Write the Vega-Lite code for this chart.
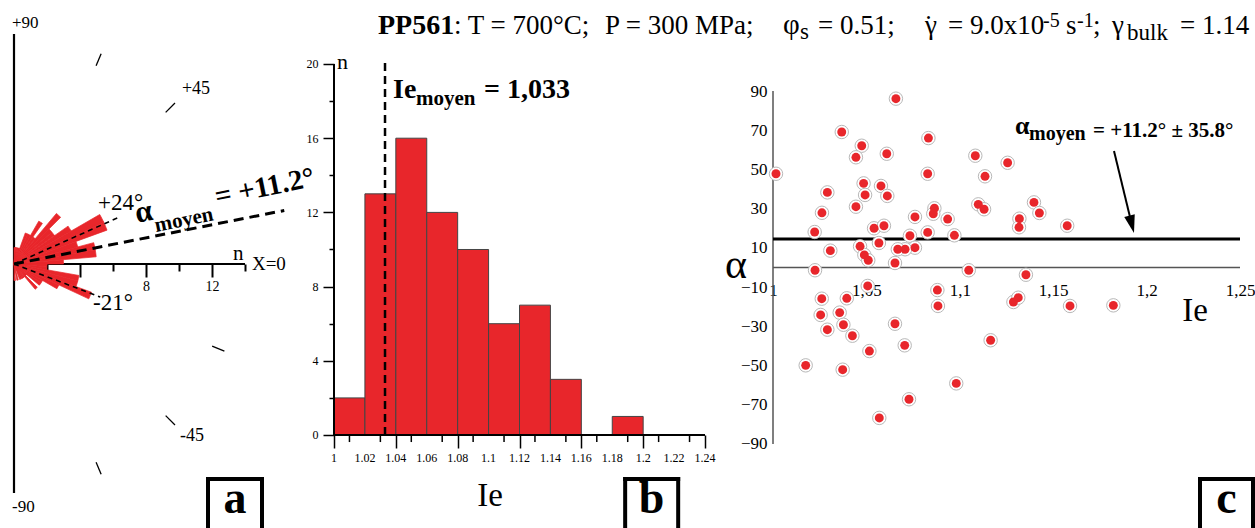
{
  "$schema": "https://vega.github.io/schema/vega-lite/v6.json",
  "padding": {"left": 12, "top": 11, "right": 0, "bottom": 0},
  "autosize": {"type": "pad"},
  "bounds": "flush",
  "spacing": 68,
  "config": {
    "font": "Liberation Serif",
    "view": {"stroke": null},
    "axis": {"grid": false, "labelColor": "#000", "tickColor": "#000", "labelFont": "Liberation Serif", "labelOverlap": false},
    "text": {"font": "Liberation Serif", "color": "#000"}
  },
  "datasets": {
    "rose": [
      {"a0": 85, "a1": 90, "n": 1}, {"a0": 80, "a1": 85, "n": 1}, {"a0": 75, "a1": 80, "n": 1},
      {"a0": 70, "a1": 75, "n": 1}, {"a0": 65, "a1": 70, "n": 2}, {"a0": 60, "a1": 65, "n": 2},
      {"a0": 55, "a1": 60, "n": 3}, {"a0": 50, "a1": 55, "n": 2}, {"a0": 45, "a1": 50, "n": 4},
      {"a0": 40, "a1": 45, "n": 3}, {"a0": 35, "a1": 40, "n": 3}, {"a0": 30, "a1": 35, "n": 4},
      {"a0": 25, "a1": 30, "n": 6}, {"a0": 20, "a1": 25, "n": 6}, {"a0": 15, "a1": 20, "n": 4},
      {"a0": 10, "a1": 15, "n": 5}, {"a0": 5, "a1": 10, "n": 5}, {"a0": 0, "a1": 5, "n": 3},
      {"a0": -5, "a1": 0, "n": 2}, {"a0": -10, "a1": -5, "n": 2}, {"a0": -15, "a1": -10, "n": 4},
      {"a0": -20, "a1": -15, "n": 4}, {"a0": -25, "a1": -20, "n": 5}, {"a0": -30, "a1": -25, "n": 3},
      {"a0": -35, "a1": -30, "n": 2}, {"a0": -40, "a1": -35, "n": 2}, {"a0": -45, "a1": -40, "n": 1},
      {"a0": -50, "a1": -45, "n": 2}, {"a0": -55, "a1": -50, "n": 1}, {"a0": -60, "a1": -55, "n": 1},
      {"a0": -65, "a1": -60, "n": 1}, {"a0": -70, "a1": -65, "n": 1}, {"a0": -80, "a1": -75, "n": 1},
      {"a0": -90, "a1": -85, "n": 1}
    ],
    "aAxes": [
      {"x": 0, "y": -13.88, "x2": 0, "y2": 13.94},
      {"x": 0, "y": 0, "x2": 14, "y2": 0}
    ],
    "aRadTicks": [
      {"x": 4.975, "y": 12.01, "x2": 5.281, "y2": 12.75},
      {"x": 9.192, "y": 9.192, "x2": 9.758, "y2": 9.758},
      {"x": 12.01, "y": -4.975, "x2": 12.75, "y2": -5.281},
      {"x": 9.192, "y": -9.192, "x2": 9.758, "y2": -9.758},
      {"x": 4.975, "y": -12.01, "x2": 5.281, "y2": -12.75}
    ],
    "aDash": [
      {"x": 0, "y": 0, "x2": 6.303, "y2": 2.806, "g": "mode"},
      {"x": 0, "y": 0, "x2": 5.228, "y2": -2.007, "g": "mode"},
      {"x": 0, "y": 0, "x2": 16.38, "y2": 3.244, "g": "mean"}
    ],
    "aBox": [
      {"x": 11.758, "y": -13.03, "x2": 11.758, "y2": -16.0},
      {"x": 11.758, "y": -13.03, "x2": 15.03, "y2": -13.03},
      {"x": 15.03, "y": -13.03, "x2": 15.03, "y2": -16.0}
    ],
    "aText": [
      {"x": -0.121, "y": 14.606, "t": "+90", "g": "l17"},
      {"x": -0.121, "y": -14.727, "t": "-90", "g": "l17"},
      {"x": 10.18, "y": 10.606, "t": "+45", "g": "l18"},
      {"x": 10.06, "y": -10.424, "t": "-45", "g": "l18"},
      {"x": 5.091, "y": 3.697, "t": "+24°", "g": "l23"},
      {"x": 4.788, "y": -2.364, "t": "-21°", "g": "l23"},
      {"x": 13.27, "y": 0.242, "t": "n", "g": "n"},
      {"x": 14.42, "y": 0, "t": "X=0", "g": "x0"},
      {"x": 7.455, "y": 2.485, "t": "α", "g": "rA"},
      {"x": 8.606, "y": 1.939, "t": "moyen", "g": "rSub"},
      {"x": 12.30, "y": 3.515, "t": "= +11.2°", "g": "rMain"},
      {"x": 13.394, "y": -15.09, "t": "a", "g": "box"}
    ],
    "hist": [
      {"b0": 1.00, "b1": 1.02, "count": 2}, {"b0": 1.02, "b1": 1.04, "count": 13},
      {"b0": 1.04, "b1": 1.06, "count": 16}, {"b0": 1.06, "b1": 1.08, "count": 12},
      {"b0": 1.08, "b1": 1.10, "count": 10}, {"b0": 1.10, "b1": 1.12, "count": 6},
      {"b0": 1.12, "b1": 1.14, "count": 7}, {"b0": 1.14, "b1": 1.16, "count": 3},
      {"b0": 1.18, "b1": 1.20, "count": 1}
    ],
    "bMinor": [
      {"v": 1.01}, {"v": 1.03}, {"v": 1.05}, {"v": 1.07}, {"v": 1.09}, {"v": 1.11},
      {"v": 1.13}, {"v": 1.15}, {"v": 1.17}, {"v": 1.19}, {"v": 1.21}, {"v": 1.23}
    ],
    "bMajor": [
      {"v": 1.0}, {"v": 1.02}, {"v": 1.04}, {"v": 1.06}, {"v": 1.08}, {"v": 1.1}, {"v": 1.12},
      {"v": 1.14}, {"v": 1.16}, {"v": 1.18}, {"v": 1.2}, {"v": 1.22}, {"v": 1.24}
    ],
    "bAxes": [
      {"x": 1, "y": 0, "x2": 1, "y2": 20},
      {"x": 1, "y": 0, "x2": 1.24, "y2": 0}
    ],
    "bDash": [{"x": 1.033, "y": 0, "x2": 1.033, "y2": 20.3}],
    "bBox": [
      {"x": 1.18835, "y": -2.372, "x2": 1.18835, "y2": -5.013},
      {"x": 1.18835, "y": -2.372, "x2": 1.22265, "y2": -2.372},
      {"x": 1.22265, "y": -2.372, "x2": 1.22265, "y2": -5.013}
    ],
    "bText": [
      {"x": 1.00194, "y": 19.73, "t": "n", "g": "n"},
      {"x": 1.03819, "y": 18.17, "t": "Ie", "g": "main"},
      {"x": 1.05307, "y": 17.79, "t": "moyen", "g": "sub"},
      {"x": 1.09709, "y": 18.17, "t": "= 1,033", "g": "main"},
      {"x": 1.10097, "y": -3.83, "t": "Ie", "g": "title"},
      {"x": 1.2055, "y": -4.205, "t": "b", "g": "box"}
    ],
    "pts": [
      {"Ie": 1.0016, "alpha": 47.8}, {"Ie": 1.0658, "alpha": 86.1}, {"Ie": 1.0368, "alpha": 69.1},
      {"Ie": 1.0832, "alpha": 66.0}, {"Ie": 1.0475, "alpha": 62.1}, {"Ie": 1.0444, "alpha": 56.2},
      {"Ie": 1.0609, "alpha": 58.0}, {"Ie": 1.1083, "alpha": 57.0}, {"Ie": 1.0828, "alpha": 47.8},
      {"Ie": 1.0485, "alpha": 42.9}, {"Ie": 1.0578, "alpha": 41.6}, {"Ie": 1.0291, "alpha": 38.3},
      {"Ie": 1.0493, "alpha": 37.0}, {"Ie": 1.0612, "alpha": 36.5}, {"Ie": 1.0262, "alpha": 27.9},
      {"Ie": 1.0444, "alpha": 31.0}, {"Ie": 1.0864, "alpha": 30.2}, {"Ie": 1.0858, "alpha": 27.4},
      {"Ie": 1.0760, "alpha": 25.8}, {"Ie": 1.0935, "alpha": 24.7}, {"Ie": 1.0541, "alpha": 20.0},
      {"Ie": 1.0594, "alpha": 21.3}, {"Ie": 1.0223, "alpha": 18.1}, {"Ie": 1.0828, "alpha": 17.9},
      {"Ie": 1.0733, "alpha": 16.2}, {"Ie": 1.0971, "alpha": 16.4}, {"Ie": 1.0567, "alpha": 12.5},
      {"Ie": 1.0466, "alpha": 10.8}, {"Ie": 1.0760, "alpha": 10.1}, {"Ie": 1.0707, "alpha": 9.3},
      {"Ie": 1.0668, "alpha": 9.3}, {"Ie": 1.0307, "alpha": 8.6}, {"Ie": 1.0489, "alpha": 6.4},
      {"Ie": 1.0510, "alpha": 3.7}, {"Ie": 1.0653, "alpha": 2.3}, {"Ie": 1.0225, "alpha": -1.4},
      {"Ie": 1.1048, "alpha": -1.4}, {"Ie": 1.0507, "alpha": -9.4}, {"Ie": 1.0880, "alpha": -11.5},
      {"Ie": 1.0261, "alpha": -15.9}, {"Ie": 1.0395, "alpha": -15.7}, {"Ie": 1.0883, "alpha": -19.6},
      {"Ie": 1.0255, "alpha": -24.2}, {"Ie": 1.0357, "alpha": -23.0}, {"Ie": 1.0377, "alpha": -29.2},
      {"Ie": 1.0653, "alpha": -28.7}, {"Ie": 1.0291, "alpha": -31.7}, {"Ie": 1.0425, "alpha": -34.8},
      {"Ie": 1.0705, "alpha": -39.7}, {"Ie": 1.0516, "alpha": -42.6}, {"Ie": 1.0175, "alpha": -49.9},
      {"Ie": 1.0373, "alpha": -52.1}, {"Ie": 1.0981, "alpha": -59.1}, {"Ie": 1.0728, "alpha": -67.2},
      {"Ie": 1.0569, "alpha": -76.7}, {"Ie": 1.1256, "alpha": 53.4}, {"Ie": 1.1135, "alpha": 46.5},
      {"Ie": 1.1099, "alpha": 32.2}, {"Ie": 1.1130, "alpha": 29.7}, {"Ie": 1.1397, "alpha": 33.2},
      {"Ie": 1.1426, "alpha": 27.8}, {"Ie": 1.1319, "alpha": 24.9}, {"Ie": 1.1317, "alpha": 20.5},
      {"Ie": 1.1575, "alpha": 21.3}, {"Ie": 1.1354, "alpha": -3.7}, {"Ie": 1.1287, "alpha": -17.6},
      {"Ie": 1.1313, "alpha": -15.4}, {"Ie": 1.1590, "alpha": -19.6}, {"Ie": 1.1822, "alpha": -19.3},
      {"Ie": 1.1165, "alpha": -37.1}
    ],
    "cLines": [
      {"x": 1, "y": -90, "x2": 1, "y2": 90, "g": "axis"},
      {"x": 1, "y": 0, "x2": 1.25, "y2": 0, "g": "zero"},
      {"x": 1, "y": 14.5, "x2": 1.25, "y2": 14.5, "g": "mean"}
    ],
    "cArrow": [{"x": 1.18255, "y": 59.41, "x2": 1.19192, "y2": 22.55}],
    "cArrowHead": [{"x": 1.19325, "y": 17.59}],
    "cBox": [
      {"x": 1.22859, "y": -107.85, "x2": 1.22859, "y2": -132.84},
      {"x": 1.22859, "y": -107.85, "x2": 1.25696, "y2": -107.85},
      {"x": 1.25696, "y": -107.85, "x2": 1.25696, "y2": -132.84}
    ],
    "cText": [
      {"x": 0.98019, "y": -5.35, "t": "α", "g": "alpha"},
      {"x": 1.22591, "y": -27.28, "t": "Ie", "g": "ie"},
      {"x": 1.12955, "y": 68.08, "t": "α", "g": "lbA"},
      {"x": 1.13704, "y": 65.02, "t": "moyen", "g": "lbSub"},
      {"x": 1.17131, "y": 66.55, "t": "= +11.2° ± 35.8°", "g": "lbMain"},
      {"x": 1.24277, "y": -125.19, "t": "c", "g": "box"},
      {"x": 0.78854, "y": 119.07, "t": "PP561", "g": "tBold"},
      {"x": 0.82923, "y": 119.07, "t": ": T = 700°C;", "g": "tReg"},
      {"x": 0.91006, "y": 119.07, "t": "P = 300 MPa;", "g": "tReg"},
      {"x": 1.00535, "y": 119.07, "t": "φ", "g": "tPhi"},
      {"x": 1.01445, "y": 116.5, "t": "s", "g": "tSub"},
      {"x": 1.02409, "y": 119.07, "t": "= 0.51;", "g": "tReg"},
      {"x": 1.08137, "y": 119.07, "t": "γ", "g": "tReg"},
      {"x": 1.0809, "y": 119.07, "t": "˙", "g": "tReg"},
      {"x": 1.09368, "y": 119.07, "t": "= 9.0x10", "g": "tReg"},
      {"x": 1.14454, "y": 122.6, "t": "-5", "g": "tSup"},
      {"x": 1.15685, "y": 119.07, "t": "s", "g": "tReg"},
      {"x": 1.16274, "y": 122.6, "t": "-1", "g": "tSup"},
      {"x": 1.17131, "y": 119.07, "t": ";", "g": "tReg"},
      {"x": 1.18148, "y": 119.07, "t": "γ", "g": "tReg"},
      {"x": 1.18951, "y": 115.99, "t": "bulk", "g": "tSub"},
      {"x": 1.21788, "y": 119.07, "t": "= 1.14", "g": "tReg"}
    ]
  },
  "hconcat": [
    {
      "width": 252,
      "height": 459,
      "layer": [
        {
          "data": {"name": "aAxes"},
          "mark": {"type": "rule", "color": "#000", "strokeWidth": 2.2},
          "encoding": {
            "x": {"field": "x", "type": "quantitative", "scale": {"domain": [0, 15.2727], "nice": false, "zero": false},
              "axis": {"orient": "bottom", "offset": -229, "values": [2, 4, 6, 8, 10, 12, 14], "domain": false, "title": null,
                "tickWidth": 2, "tickSize": {"condition": {"test": "datum.value % 4 === 0", "value": 13}, "value": 7},
                "labelExpr": "datum.value === 8 || datum.value === 12 ? datum.label : ''", "labelFontSize": 14, "labelPadding": 2,
                "labelFlush": false, "labelOverlap": false}},
            "y": {"field": "y", "type": "quantitative", "scale": {"domain": [-13.88, 13.94], "nice": false, "zero": false}, "axis": null},
            "x2": {"field": "x2"},
            "y2": {"field": "y2"}
          }
        },
        {
          "data": {"name": "rose"},
          "mark": {"type": "arc", "color": "#e8262b", "stroke": "#e8262b", "strokeWidth": 0.7},
          "encoding": {
            "x": {"datum": 0, "type": "quantitative", "scale": {"domain": [0, 15.2727], "nice": false, "zero": false}},
            "y": {"datum": 0, "type": "quantitative", "scale": {"domain": [-13.88, 13.94], "nice": false, "zero": false}, "axis": null},
            "theta": {"field": "a1", "type": "quantitative", "stack": null, "scale": {"domain": [-90, 90], "range": [3.14159265, 0]}},
            "theta2": {"field": "a0"},
            "radius": {"field": "n", "type": "quantitative", "scale": {"type": "linear", "domain": [0, 14], "range": [0, 231], "zero": true, "nice": false}}
          }
        },
        {
          "data": {"name": "aDash"},
          "transform": [{"filter": "datum.g === 'mode'"}],
          "mark": {"type": "rule", "color": "#000", "strokeWidth": 1.6, "strokeDash": [5, 4]},
          "encoding": {
            "x": {"field": "x", "type": "quantitative", "scale": {"domain": [0, 15.2727], "nice": false, "zero": false}},
            "y": {"field": "y", "type": "quantitative", "scale": {"domain": [-13.88, 13.94], "nice": false, "zero": false}, "axis": null},
            "x2": {"field": "x2"},
            "y2": {"field": "y2"}
          }
        },
        {
          "data": {"name": "aDash"},
          "transform": [{"filter": "datum.g === 'mean'"}],
          "mark": {"type": "rule", "color": "#000", "strokeWidth": 3, "strokeDash": [10, 6]},
          "encoding": {
            "x": {"field": "x", "type": "quantitative", "scale": {"domain": [0, 15.2727], "nice": false, "zero": false}},
            "y": {"field": "y", "type": "quantitative", "scale": {"domain": [-13.88, 13.94], "nice": false, "zero": false}, "axis": null},
            "x2": {"field": "x2"},
            "y2": {"field": "y2"}
          }
        },
        {
          "data": {"name": "aRadTicks"},
          "mark": {"type": "rule", "color": "#000", "strokeWidth": 1.3},
          "encoding": {
            "x": {"field": "x", "type": "quantitative", "scale": {"domain": [0, 15.2727], "nice": false, "zero": false}},
            "y": {"field": "y", "type": "quantitative", "scale": {"domain": [-13.88, 13.94], "nice": false, "zero": false}, "axis": null},
            "x2": {"field": "x2"},
            "y2": {"field": "y2"}
          }
        },
        {
          "data": {"name": "aBox"},
          "mark": {"type": "rule", "color": "#000", "strokeWidth": 4, "strokeCap": "square"},
          "encoding": {
            "x": {"field": "x", "type": "quantitative", "scale": {"domain": [0, 15.2727], "nice": false, "zero": false}},
            "y": {"field": "y", "type": "quantitative", "scale": {"domain": [-13.88, 13.94], "nice": false, "zero": false}, "axis": null},
            "x2": {"field": "x2"},
            "y2": {"field": "y2"}
          }
        },
        {
          "data": {"name": "aText"},
          "transform": [{"filter": "datum.g === 'l17'"}],
          "mark": {"type": "text", "align": "left", "baseline": "middle", "fontSize": 17},
          "encoding": {
            "x": {"field": "x", "type": "quantitative", "scale": {"domain": [0, 15.2727], "nice": false, "zero": false}},
            "y": {"field": "y", "type": "quantitative", "scale": {"domain": [-13.88, 13.94], "nice": false, "zero": false}, "axis": null},
            "text": {"field": "t"}
          }
        },
        {
          "data": {"name": "aText"},
          "transform": [{"filter": "datum.g === 'l18'"}],
          "mark": {"type": "text", "align": "left", "baseline": "middle", "fontSize": 18},
          "encoding": {
            "x": {"field": "x", "type": "quantitative", "scale": {"domain": [0, 15.2727], "nice": false, "zero": false}},
            "y": {"field": "y", "type": "quantitative", "scale": {"domain": [-13.88, 13.94], "nice": false, "zero": false}, "axis": null},
            "text": {"field": "t"}
          }
        },
        {
          "data": {"name": "aText"},
          "transform": [{"filter": "datum.g === 'l23'"}],
          "mark": {"type": "text", "align": "left", "baseline": "middle", "fontSize": 23},
          "encoding": {
            "x": {"field": "x", "type": "quantitative", "scale": {"domain": [0, 15.2727], "nice": false, "zero": false}},
            "y": {"field": "y", "type": "quantitative", "scale": {"domain": [-13.88, 13.94], "nice": false, "zero": false}, "axis": null},
            "text": {"field": "t"}
          }
        },
        {
          "data": {"name": "aText"},
          "transform": [{"filter": "datum.g === 'n'"}],
          "mark": {"type": "text", "align": "left", "baseline": "alphabetic", "fontSize": 21},
          "encoding": {
            "x": {"field": "x", "type": "quantitative", "scale": {"domain": [0, 15.2727], "nice": false, "zero": false}},
            "y": {"field": "y", "type": "quantitative", "scale": {"domain": [-13.88, 13.94], "nice": false, "zero": false}, "axis": null},
            "text": {"field": "t"}
          }
        },
        {
          "data": {"name": "aText"},
          "transform": [{"filter": "datum.g === 'x0'"}],
          "mark": {"type": "text", "align": "left", "baseline": "middle", "fontSize": 19},
          "encoding": {
            "x": {"field": "x", "type": "quantitative", "scale": {"domain": [0, 15.2727], "nice": false, "zero": false}},
            "y": {"field": "y", "type": "quantitative", "scale": {"domain": [-13.88, 13.94], "nice": false, "zero": false}, "axis": null},
            "text": {"field": "t"}
          }
        },
        {
          "data": {"name": "aText"},
          "transform": [{"filter": "datum.g === 'rA'"}],
          "mark": {"type": "text", "align": "left", "baseline": "alphabetic", "fontSize": 31, "fontWeight": "bold", "angle": -11.5},
          "encoding": {
            "x": {"field": "x", "type": "quantitative", "scale": {"domain": [0, 15.2727], "nice": false, "zero": false}},
            "y": {"field": "y", "type": "quantitative", "scale": {"domain": [-13.88, 13.94], "nice": false, "zero": false}, "axis": null},
            "text": {"field": "t"}
          }
        },
        {
          "data": {"name": "aText"},
          "transform": [{"filter": "datum.g === 'rSub'"}],
          "mark": {"type": "text", "align": "left", "baseline": "alphabetic", "fontSize": 21, "fontWeight": "bold", "angle": -11.5},
          "encoding": {
            "x": {"field": "x", "type": "quantitative", "scale": {"domain": [0, 15.2727], "nice": false, "zero": false}},
            "y": {"field": "y", "type": "quantitative", "scale": {"domain": [-13.88, 13.94], "nice": false, "zero": false}, "axis": null},
            "text": {"field": "t"}
          }
        },
        {
          "data": {"name": "aText"},
          "transform": [{"filter": "datum.g === 'rMain'"}],
          "mark": {"type": "text", "align": "left", "baseline": "alphabetic", "fontSize": 29, "fontWeight": "bold", "angle": -11.5},
          "encoding": {
            "x": {"field": "x", "type": "quantitative", "scale": {"domain": [0, 15.2727], "nice": false, "zero": false}},
            "y": {"field": "y", "type": "quantitative", "scale": {"domain": [-13.88, 13.94], "nice": false, "zero": false}, "axis": null},
            "text": {"field": "t"}
          }
        },
        {
          "data": {"name": "aText"},
          "transform": [{"filter": "datum.g === 'box'"}],
          "mark": {"type": "text", "align": "center", "baseline": "alphabetic", "fontSize": 46, "fontWeight": "bold"},
          "encoding": {
            "x": {"field": "x", "type": "quantitative", "scale": {"domain": [0, 15.2727], "nice": false, "zero": false}},
            "y": {"field": "y", "type": "quantitative", "scale": {"domain": [-13.88, 13.94], "nice": false, "zero": false}, "axis": null},
            "text": {"field": "t"}
          }
        }
      ]
    },
    {
      "width": 371,
      "height": 459,
      "layer": [
        {
          "data": {"name": "hist"},
          "mark": {"type": "rect", "color": "#e8262b", "stroke": "#444", "strokeWidth": 1},
          "encoding": {
            "x": {"field": "b0", "type": "quantitative", "scale": {"domain": [1, 1.24], "nice": false, "zero": false},
              "axis": {"orient": "bottom", "offset": -58, "values": [1, 1.02, 1.04, 1.06, 1.08, 1.1, 1.12, 1.14, 1.16, 1.18, 1.2, 1.22, 1.24],
                "labels": false, "domain": false, "title": null, "tickWidth": 1.5, "tickSize": 13}},
            "x2": {"field": "b1"},
            "y": {"field": "count", "type": "quantitative", "scale": {"domain": [-3.127, 21.617], "nice": false, "zero": false},
              "axis": {"values": [0, 2, 4, 6, 8, 10, 12, 14, 16, 18, 20], "domain": false, "title": null, "tickWidth": 1.5,
                "tickSize": {"condition": {"test": "datum.value % 4 === 0", "value": 11}, "value": 5},
                "labelExpr": "datum.value % 4 === 0 ? datum.label : ''",
                "labelFontSize": 12, "labelPadding": 5, "labelFlush": false, "labelOverlap": false}},
            "y2": {"datum": 0}
          }
        },
        {
          "data": {"name": "bMinor"},
          "mark": {"type": "rule", "color": "#000", "strokeWidth": 1.5},
          "encoding": {
            "x": {"field": "v", "type": "quantitative", "scale": {"domain": [1, 1.24], "nice": false, "zero": false}},
            "y": {"datum": 0, "type": "quantitative", "scale": {"domain": [-3.127, 21.617], "nice": false, "zero": false}},
            "y2": {"datum": -0.38}
          }
        },
        {
          "data": {"name": "bMajor"},
          "mark": {"type": "text", "align": "center", "baseline": "top", "fontSize": 12},
          "encoding": {
            "x": {"field": "v", "type": "quantitative", "scale": {"domain": [1, 1.24], "nice": false, "zero": false}},
            "y": {"datum": -0.97, "type": "quantitative", "scale": {"domain": [-3.127, 21.617], "nice": false, "zero": false}},
            "text": {"field": "v", "type": "quantitative", "format": "~g"}
          }
        },
        {
          "data": {"name": "bAxes"},
          "mark": {"type": "rule", "color": "#000", "strokeWidth": 2},
          "encoding": {
            "x": {"field": "x", "type": "quantitative", "scale": {"domain": [1, 1.24], "nice": false, "zero": false}},
            "y": {"field": "y", "type": "quantitative", "scale": {"domain": [-3.127, 21.617], "nice": false, "zero": false}},
            "x2": {"field": "x2"},
            "y2": {"field": "y2"}
          }
        },
        {
          "data": {"name": "bDash"},
          "mark": {"type": "rule", "color": "#000", "strokeWidth": 2.5, "strokeDash": [8, 5]},
          "encoding": {
            "x": {"field": "x", "type": "quantitative", "scale": {"domain": [1, 1.24], "nice": false, "zero": false}},
            "y": {"field": "y", "type": "quantitative", "scale": {"domain": [-3.127, 21.617], "nice": false, "zero": false}},
            "x2": {"field": "x2"},
            "y2": {"field": "y2"}
          }
        },
        {
          "data": {"name": "bBox"},
          "mark": {"type": "rule", "color": "#000", "strokeWidth": 4, "strokeCap": "square"},
          "encoding": {
            "x": {"field": "x", "type": "quantitative", "scale": {"domain": [1, 1.24], "nice": false, "zero": false}},
            "y": {"field": "y", "type": "quantitative", "scale": {"domain": [-3.127, 21.617], "nice": false, "zero": false}},
            "x2": {"field": "x2"},
            "y2": {"field": "y2"}
          }
        },
        {
          "data": {"name": "bText"},
          "transform": [{"filter": "datum.g === 'n'"}],
          "mark": {"type": "text", "align": "left", "baseline": "alphabetic", "fontSize": 22},
          "encoding": {
            "x": {"field": "x", "type": "quantitative", "scale": {"domain": [1, 1.24], "nice": false, "zero": false}},
            "y": {"field": "y", "type": "quantitative", "scale": {"domain": [-3.127, 21.617], "nice": false, "zero": false}},
            "text": {"field": "t"}
          }
        },
        {
          "data": {"name": "bText"},
          "transform": [{"filter": "datum.g === 'main'"}],
          "mark": {"type": "text", "align": "left", "baseline": "alphabetic", "fontSize": 28, "fontWeight": "bold"},
          "encoding": {
            "x": {"field": "x", "type": "quantitative", "scale": {"domain": [1, 1.24], "nice": false, "zero": false}},
            "y": {"field": "y", "type": "quantitative", "scale": {"domain": [-3.127, 21.617], "nice": false, "zero": false}},
            "text": {"field": "t"}
          }
        },
        {
          "data": {"name": "bText"},
          "transform": [{"filter": "datum.g === 'sub'"}],
          "mark": {"type": "text", "align": "left", "baseline": "alphabetic", "fontSize": 21, "fontWeight": "bold"},
          "encoding": {
            "x": {"field": "x", "type": "quantitative", "scale": {"domain": [1, 1.24], "nice": false, "zero": false}},
            "y": {"field": "y", "type": "quantitative", "scale": {"domain": [-3.127, 21.617], "nice": false, "zero": false}},
            "text": {"field": "t"}
          }
        },
        {
          "data": {"name": "bText"},
          "transform": [{"filter": "datum.g === 'title'"}],
          "mark": {"type": "text", "align": "center", "baseline": "alphabetic", "fontSize": 33},
          "encoding": {
            "x": {"field": "x", "type": "quantitative", "scale": {"domain": [1, 1.24], "nice": false, "zero": false}},
            "y": {"field": "y", "type": "quantitative", "scale": {"domain": [-3.127, 21.617], "nice": false, "zero": false}},
            "text": {"field": "t"}
          }
        },
        {
          "data": {"name": "bText"},
          "transform": [{"filter": "datum.g === 'box'"}],
          "mark": {"type": "text", "align": "center", "baseline": "alphabetic", "fontSize": 46, "fontWeight": "bold"},
          "encoding": {
            "x": {"field": "x", "type": "quantitative", "scale": {"domain": [1, 1.24], "nice": false, "zero": false}},
            "y": {"field": "y", "type": "quantitative", "scale": {"domain": [-3.127, 21.617], "nice": false, "zero": false}},
            "text": {"field": "t"}
          }
        }
      ]
    },
    {
      "width": 467,
      "height": 459,
      "layer": [
        {
          "data": {"name": "cLines"},
          "transform": [{"filter": "datum.g !== 'mean'"}],
          "mark": {"type": "rule", "color": "#555", "strokeWidth": 1.5},
          "encoding": {
            "x": {"field": "x", "type": "quantitative", "scale": {"domain": [1, 1.25], "nice": false, "zero": false},
              "axis": {"orient": "bottom", "offset": -211, "values": [1, 1.05, 1.1, 1.15, 1.2, 1.25], "format": "~g",
                "labelExpr": "replace(datum.label, '.', ',')", "ticks": false, "tickSize": 0, "domain": false, "title": null,
                "labelPadding": 0, "labelFontSize": 17, "labelFlush": false, "labelOverlap": false}},
            "y": {"field": "y", "type": "quantitative", "scale": {"domain": [-114.99, 119.07], "nice": false, "zero": false},
              "axis": {"values": [-90, -70, -50, -30, -10, 10, 30, 50, 70, 90], "ticks": false, "tickSize": 0, "domain": false, "title": null,
                "labelPadding": 6, "labelFontSize": 17, "labelFlush": false, "labelOverlap": false}},
            "x2": {"field": "x2"},
            "y2": {"field": "y2"}
          }
        },
        {
          "data": {"name": "cLines"},
          "transform": [{"filter": "datum.g === 'mean'"}],
          "mark": {"type": "rule", "color": "#000", "strokeWidth": 3},
          "encoding": {
            "x": {"field": "x", "type": "quantitative", "scale": {"domain": [1, 1.25], "nice": false, "zero": false}},
            "y": {"field": "y", "type": "quantitative", "scale": {"domain": [-114.99, 119.07], "nice": false, "zero": false}},
            "x2": {"field": "x2"},
            "y2": {"field": "y2"}
          }
        },
        {
          "data": {"name": "pts"},
          "mark": {"type": "point", "shape": "circle", "filled": true, "fill": "#ffffff", "stroke": "#b8b8b8", "strokeWidth": 1, "size": 180, "opacity": 1},
          "encoding": {
            "x": {"field": "Ie", "type": "quantitative", "scale": {"domain": [1, 1.25], "nice": false, "zero": false}},
            "y": {"field": "alpha", "type": "quantitative", "scale": {"domain": [-114.99, 119.07], "nice": false, "zero": false}}
          }
        },
        {
          "data": {"name": "pts"},
          "mark": {"type": "point", "shape": "circle", "filled": true, "color": "#e8262b", "size": 80, "opacity": 1},
          "encoding": {
            "x": {"field": "Ie", "type": "quantitative", "scale": {"domain": [1, 1.25], "nice": false, "zero": false}},
            "y": {"field": "alpha", "type": "quantitative", "scale": {"domain": [-114.99, 119.07], "nice": false, "zero": false}}
          }
        },
        {
          "data": {"name": "cArrow"},
          "mark": {"type": "rule", "color": "#000", "strokeWidth": 2},
          "encoding": {
            "x": {"field": "x", "type": "quantitative", "scale": {"domain": [1, 1.25], "nice": false, "zero": false}},
            "y": {"field": "y", "type": "quantitative", "scale": {"domain": [-114.99, 119.07], "nice": false, "zero": false}},
            "x2": {"field": "x2"},
            "y2": {"field": "y2"}
          }
        },
        {
          "data": {"name": "cArrowHead"},
          "mark": {"type": "point", "shape": "M0,0L-0.3,-1L0.3,-1Z", "filled": true, "color": "#000", "size": 1300, "angle": -14.4, "opacity": 1},
          "encoding": {
            "x": {"field": "x", "type": "quantitative", "scale": {"domain": [1, 1.25], "nice": false, "zero": false}},
            "y": {"field": "y", "type": "quantitative", "scale": {"domain": [-114.99, 119.07], "nice": false, "zero": false}}
          }
        },
        {
          "data": {"name": "cBox"},
          "mark": {"type": "rule", "color": "#000", "strokeWidth": 4, "strokeCap": "square"},
          "encoding": {
            "x": {"field": "x", "type": "quantitative", "scale": {"domain": [1, 1.25], "nice": false, "zero": false}},
            "y": {"field": "y", "type": "quantitative", "scale": {"domain": [-114.99, 119.07], "nice": false, "zero": false}},
            "x2": {"field": "x2"},
            "y2": {"field": "y2"}
          }
        },
        {
          "data": {"name": "cText"},
          "transform": [{"filter": "datum.g === 'alpha'"}],
          "mark": {"type": "text", "align": "center", "baseline": "alphabetic", "fontSize": 42},
          "encoding": {
            "x": {"field": "x", "type": "quantitative", "scale": {"domain": [1, 1.25], "nice": false, "zero": false}},
            "y": {"field": "y", "type": "quantitative", "scale": {"domain": [-114.99, 119.07], "nice": false, "zero": false}},
            "text": {"field": "t"}
          }
        },
        {
          "data": {"name": "cText"},
          "transform": [{"filter": "datum.g === 'ie'"}],
          "mark": {"type": "text", "align": "center", "baseline": "alphabetic", "fontSize": 33},
          "encoding": {
            "x": {"field": "x", "type": "quantitative", "scale": {"domain": [1, 1.25], "nice": false, "zero": false}},
            "y": {"field": "y", "type": "quantitative", "scale": {"domain": [-114.99, 119.07], "nice": false, "zero": false}},
            "text": {"field": "t"}
          }
        },
        {
          "data": {"name": "cText"},
          "transform": [{"filter": "datum.g === 'lbA'"}],
          "mark": {"type": "text", "align": "left", "baseline": "alphabetic", "fontSize": 26, "fontWeight": "bold"},
          "encoding": {
            "x": {"field": "x", "type": "quantitative", "scale": {"domain": [1, 1.25], "nice": false, "zero": false}},
            "y": {"field": "y", "type": "quantitative", "scale": {"domain": [-114.99, 119.07], "nice": false, "zero": false}},
            "text": {"field": "t"}
          }
        },
        {
          "data": {"name": "cText"},
          "transform": [{"filter": "datum.g === 'lbSub'"}],
          "mark": {"type": "text", "align": "left", "baseline": "alphabetic", "fontSize": 20, "fontWeight": "bold"},
          "encoding": {
            "x": {"field": "x", "type": "quantitative", "scale": {"domain": [1, 1.25], "nice": false, "zero": false}},
            "y": {"field": "y", "type": "quantitative", "scale": {"domain": [-114.99, 119.07], "nice": false, "zero": false}},
            "text": {"field": "t"}
          }
        },
        {
          "data": {"name": "cText"},
          "transform": [{"filter": "datum.g === 'lbMain'"}],
          "mark": {"type": "text", "align": "left", "baseline": "alphabetic", "fontSize": 21, "fontWeight": "bold"},
          "encoding": {
            "x": {"field": "x", "type": "quantitative", "scale": {"domain": [1, 1.25], "nice": false, "zero": false}},
            "y": {"field": "y", "type": "quantitative", "scale": {"domain": [-114.99, 119.07], "nice": false, "zero": false}},
            "text": {"field": "t"}
          }
        },
        {
          "data": {"name": "cText"},
          "transform": [{"filter": "datum.g === 'box'"}],
          "mark": {"type": "text", "align": "center", "baseline": "alphabetic", "fontSize": 46, "fontWeight": "bold"},
          "encoding": {
            "x": {"field": "x", "type": "quantitative", "scale": {"domain": [1, 1.25], "nice": false, "zero": false}},
            "y": {"field": "y", "type": "quantitative", "scale": {"domain": [-114.99, 119.07], "nice": false, "zero": false}},
            "text": {"field": "t"}
          }
        },
        {
          "data": {"name": "cText"},
          "transform": [{"filter": "datum.g === 'tBold'"}],
          "mark": {"type": "text", "align": "left", "baseline": "alphabetic", "fontSize": 28, "fontWeight": "bold"},
          "encoding": {
            "x": {"field": "x", "type": "quantitative", "scale": {"domain": [1, 1.25], "nice": false, "zero": false}},
            "y": {"field": "y", "type": "quantitative", "scale": {"domain": [-114.99, 119.07], "nice": false, "zero": false}},
            "text": {"field": "t"}
          }
        },
        {
          "data": {"name": "cText"},
          "transform": [{"filter": "datum.g === 'tReg'"}],
          "mark": {"type": "text", "align": "left", "baseline": "alphabetic", "fontSize": 27},
          "encoding": {
            "x": {"field": "x", "type": "quantitative", "scale": {"domain": [1, 1.25], "nice": false, "zero": false}},
            "y": {"field": "y", "type": "quantitative", "scale": {"domain": [-114.99, 119.07], "nice": false, "zero": false}},
            "text": {"field": "t"}
          }
        },
        {
          "data": {"name": "cText"},
          "transform": [{"filter": "datum.g === 'tPhi'"}],
          "mark": {"type": "text", "align": "left", "baseline": "alphabetic", "fontSize": 29},
          "encoding": {
            "x": {"field": "x", "type": "quantitative", "scale": {"domain": [1, 1.25], "nice": false, "zero": false}},
            "y": {"field": "y", "type": "quantitative", "scale": {"domain": [-114.99, 119.07], "nice": false, "zero": false}},
            "text": {"field": "t"}
          }
        },
        {
          "data": {"name": "cText"},
          "transform": [{"filter": "datum.g === 'tSub'"}],
          "mark": {"type": "text", "align": "left", "baseline": "alphabetic", "fontSize": 23},
          "encoding": {
            "x": {"field": "x", "type": "quantitative", "scale": {"domain": [1, 1.25], "nice": false, "zero": false}},
            "y": {"field": "y", "type": "quantitative", "scale": {"domain": [-114.99, 119.07], "nice": false, "zero": false}},
            "text": {"field": "t"}
          }
        },
        {
          "data": {"name": "cText"},
          "transform": [{"filter": "datum.g === 'tSup'"}],
          "mark": {"type": "text", "align": "left", "baseline": "alphabetic", "fontSize": 20},
          "encoding": {
            "x": {"field": "x", "type": "quantitative", "scale": {"domain": [1, 1.25], "nice": false, "zero": false}},
            "y": {"field": "y", "type": "quantitative", "scale": {"domain": [-114.99, 119.07], "nice": false, "zero": false}},
            "text": {"field": "t"}
          }
        }
      ]
    }
  ]
}
